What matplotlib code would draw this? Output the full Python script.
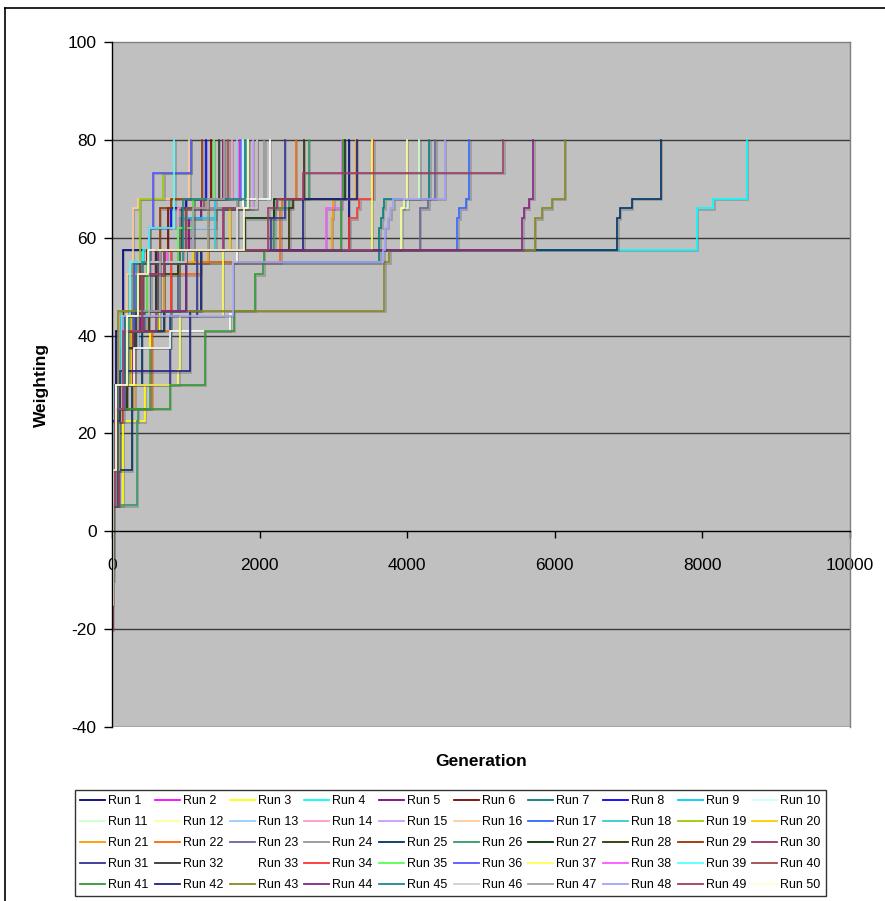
import matplotlib
matplotlib.use("Agg")
import matplotlib.pyplot as plt
import matplotlib.patheffects as pe
from matplotlib.lines import Line2D

plt.rcParams['font.family'] = ['Liberation Sans', 'DejaVu Sans']

# Best weighting per generation for each GA run: (generation, weighting) change points
run_01 = [(0, 12.5), (25, 30), (60, 41), (120, 44), (150, 57.5), (3211, 80)]
run_02 = [(0, 5.3), (30, 22.5), (90, 32.7), (230, 41), (420, 52.5), (620, 57.5), (1000, 66), (1690, 68), (1740, 80)]
run_03 = [(0, 5.3), (150, 22.5), (447, 30), (520, 41), (640, 45), (900, 57.5), (1300, 68), (1500, 80)]
run_04 = [(0, 5.3), (40, 25), (130, 37.5), (210, 44), (330, 55), (420, 57.5), (7923, 66), (8148, 68), (8600, 80)]
run_05 = [(0, 12.5), (70, 30), (200, 41), (380, 45), (600, 57.5), (1050, 64), (1200, 68), (1508, 80)]
run_06 = [(0, -5), (20, 22.5), (110, 37.5), (260, 45), (480, 57.5), (760, 66), (1000, 68), (1341, 80)]
run_07 = [(0, 5.3), (60, 25), (200, 41), (420, 45), (900, 55), (3620, 62), (3650, 64), (3670, 66), (3690, 68), (4300, 80)]
run_08 = [(0, 12.5), (50, 30), (180, 44), (300, 55), (505, 62), (800, 66), (1000, 68), (1270, 80)]
run_09 = [(0, 5.3), (35, 25), (100, 41), (250, 45), (520, 57.5), (900, 64), (1400, 68), (1760, 80)]
run_10 = [(0, 12.5), (60, 30), (170, 44), (400, 55), (800, 57.5), (1500, 66), (1780, 80)]
run_11 = [(0, 5.3), (80, 30), (250, 41), (600, 55), (1200, 57.5), (3930, 66), (4010, 68), (4164, 80)]
run_12 = [(0, 12.5), (100, 30), (300, 44), (700, 55), (1300, 57.5), (3912, 66), (3957, 68), (3993, 80)]
run_13 = [(0, 5.3), (50, 22.5), (160, 37.5), (350, 45), (650, 55), (1100, 62), (1400, 66), (1690, 80)]
run_14 = [(0, 12.5), (40, 25), (140, 41), (300, 52.5), (560, 57.5), (900, 66), (1300, 68), (1620, 80)]
run_15 = [(0, 5.3), (70, 30), (220, 41), (500, 55), (900, 57.5), (1500, 66), (1906, 80)]
run_16 = [(0, 12.5), (30, 30), (100, 44), (200, 52.5), (285, 66), (350, 68), (1048, 80)]
run_17 = [(0, 5.3), (60, 25), (180, 41), (400, 45), (700, 57.5), (4680, 64), (4708, 66), (4790, 68), (4843, 80)]
run_18 = [(0, 12.5), (45, 30), (160, 44), (380, 55), (700, 57.5), (1400, 66), (1820, 80)]
run_19 = [(0, 5.3), (40, 30), (130, 45), (280, 55), (380, 68), (695, 73.3), (1065, 80)]
run_20 = [(0, 12.5), (80, 30), (260, 44), (600, 55), (1100, 57.5), (1600, 66), (1845, 80)]
run_21 = [(0, 5.3), (90, 25), (300, 41), (700, 55), (1300, 57.5), (2976, 64), (2990, 66), (3000, 68), (3300, 80)]
run_22 = [(0, 12.5), (60, 25), (540, 41), (800, 52.5), (1200, 55), (2280, 66), (2300, 68), (2489, 80)]
run_23 = [(0, 5.3), (50, 30), (200, 41), (450, 45), (900, 57.5), (4174, 66), (4287, 68), (4381, 80)]
run_24 = [(0, 12.5), (40, 30), (150, 41), (350, 52.5), (700, 57.5), (1300, 66), (1700, 68), (2064, 80)]
run_25 = [(0, 12.5), (267, 30), (400, 41), (700, 45), (1000, 57.5), (6847, 64), (6884, 66), (7041, 68), (7439, 80)]
run_26 = [(0, 5.3), (335, 22.5), (350, 25), (515, 37.5), (800, 45), (1200, 57.5), (2200, 66), (2400, 68), (2669, 80)]
run_27 = [(0, -10), (20, 22.5), (130, 37.5), (300, 45), (600, 57.5), (1800, 64), (2200, 68), (3157, 80)]
run_28 = [(0, 5.3), (70, 25), (200, 41), (500, 52.5), (900, 57.5), (2400, 66), (2450, 68), (2602, 80)]
run_29 = [(0, 12.5), (50, 30), (180, 44), (380, 55), (650, 66), (800, 68), (1224, 80)]
run_30 = [(0, 5.3), (90, 30), (280, 41), (600, 55), (1000, 57.5), (1500, 66), (1960, 80)]
run_31 = [(0, 12.5), (30, 22.5), (108, 30), (786, 44), (1150, 57.5), (2160, 64), (2344, 80)]
run_32 = [(0, 5.3), (40, 22.5), (120, 37.5), (320, 45), (600, 57.5), (950, 66), (1100, 68), (1450, 80)]
run_33 = [(0, 12.5), (100, 30), (300, 37.5), (786, 41), (1600, 44.5), (1640, 55), (1690, 66), (1780, 68), (2141, 80)]
run_34 = [(0, 5.3), (20, 22.5), (150, 41), (420, 45), (800, 57.5), (3216, 64), (3315, 66), (3351, 68), (3541, 80)]
run_35 = [(0, 12.5), (70, 30), (220, 44), (480, 55), (900, 62), (1100, 68), (1380, 80)]
run_36 = [(0, 5.3), (40, 30), (140, 41), (300, 55), (505, 62), (555, 73.3), (1070, 80)]
run_37 = [(0, 5.3), (40, 22.5), (120, 30), (899, 33), (921, 44), (1500, 57.5), (3518, 80)]
run_38 = [(0, 12.5), (50, 25), (160, 41), (400, 55), (741, 57.5), (2900, 66), (3112, 80)]
run_39 = [(0, 5.3), (30, 30), (120, 44), (250, 55), (500, 62), (845, 80)]
run_40 = [(0, 12.5), (60, 30), (200, 41), (420, 52.5), (700, 57.5), (1000, 66), (1250, 68), (1576, 80)]
run_41 = [(0, 12.5), (80, 25), (786, 30), (1260, 41), (1650, 45), (1938, 52.5), (2050, 55), (2060, 57.5), (3100, 68), (3135, 80)]
run_42 = [(0, 22.5), (108, 32.7), (1057, 45), (1200, 57.5), (2593, 68), (3315, 80)]
run_43 = [(0, 5.3), (50, 30), (86, 45), (3690, 55), (3760, 57.5), (5732, 64), (5823, 66), (5958, 68), (6138, 80)]
run_44 = [(0, 12.5), (40, 30), (150, 41), (400, 45), (1000, 57.5), (5560, 64), (5583, 66), (5651, 68), (5709, 80)]
run_45 = [(0, 5.3), (60, 30), (180, 44), (400, 55), (964, 68), (1800, 80)]
run_46 = [(0, 12.5), (50, 30), (200, 44), (500, 55), (1000, 57.5), (1700, 66), (1960, 80)]
run_47 = [(0, 5.3), (40, 25), (150, 41), (350, 45), (650, 57.5), (1100, 66), (1300, 68), (1522, 80)]
run_48 = [(0, -5), (15, 5.3), (50, 25), (150, 44), (1640, 55), (3677, 57.5), (3700, 62), (3740, 64), (3770, 66), (3812, 68), (4512, 80)]
run_49 = [(0, -20), (8, 5.3), (40, 25), (150, 41), (400, 52.5), (700, 57.5), (2118, 66), (2231, 68), (2593, 73.3), (5302, 80)]
run_50 = [(0, -15), (12, 12.5), (60, 30), (200, 44), (350, 52.5), (492, 57.5), (1790, 66), (1840, 80)]

runs = [run_01, run_02, run_03, run_04, run_05, run_06, run_07, run_08, run_09, run_10,
        run_11, run_12, run_13, run_14, run_15, run_16, run_17, run_18, run_19, run_20,
        run_21, run_22, run_23, run_24, run_25, run_26, run_27, run_28, run_29, run_30,
        run_31, run_32, run_33, run_34, run_35, run_36, run_37, run_38, run_39, run_40,
        run_41, run_42, run_43, run_44, run_45, run_46, run_47, run_48, run_49, run_50]
run_labels = [f"Run {i}" for i in range(1, 51)]

run_colors = [
    '#000080', '#FF00FF', '#FFFF00', '#00FFFF', '#800080', '#800000', '#008080', '#0000FF', '#00CCFF', '#CCFFFF',
    '#CCFFCC', '#FFFF99', '#99CCFF', '#FF99CC', '#CC99FF', '#FFCC99', '#3366FF', '#33CCCC', '#99CC00', '#FFCC00',
    '#FF9900', '#FF6600', '#666699', '#969696', '#003366', '#339966', '#003300', '#333300', '#993300', '#993366',
    '#333399', '#333333', '#FFFFFF', '#FF3333', '#55FF55', '#5555FF', '#FFFF55', '#FF55FF', '#55FFFF', '#A04848',
    '#339933', '#202080', '#888822', '#882288', '#228888', '#D0D0D0', '#A0A0A0', '#A0A0FF', '#A03A66', '#FFFFD0',
]

y_ticks = [-40, -20, 0, 20, 40, 60, 80, 100]
x_ticks = [0, 2000, 4000, 6000, 8000, 10000]

fig = plt.figure(figsize=(8.85, 9.01), dpi=100)
ax = fig.add_axes([112 / 885, 1 - 727 / 901, 738 / 885, 685 / 901])
ax.set_facecolor('#C0C0C0')

for y in [-40, -20, 20, 40, 60, 80]:
    ax.axhline(y, color='#3a3a3a', lw=1.0, zorder=1)

shadow = [pe.SimpleLineShadow(offset=(1.0, -1.0), shadow_color='#505050', alpha=0.35), pe.Normal()]
handles = []
for pts, col, lab in zip(runs, run_colors, run_labels):
    gens = [p[0] for p in pts]
    vals = [p[1] for p in pts]
    ax.plot(gens, vals, drawstyle='steps-post', color=col, lw=1.2,
            path_effects=shadow, zorder=2, solid_joinstyle='miter')
    handles.append(Line2D([], [], color=col, lw=1.3))

ax.set_xlim(0, 10000)
ax.set_ylim(-40, 100)
ax.set_xticks(x_ticks)
ax.set_yticks(y_ticks)
ax.set_xticklabels([str(v) for v in x_ticks])
ax.set_yticklabels([str(v) for v in y_ticks])

ax.spines['bottom'].set_position(('data', 0))
ax.spines['bottom'].set_color('black')
ax.spines['bottom'].set_zorder(3)
ax.spines['left'].set_color('black')
ax.spines['left'].set_zorder(3)
ax.spines['top'].set_color('#808080')
ax.spines['right'].set_color('#808080')
for s in ax.spines.values():
    s.set_linewidth(1.0)

ax.tick_params(axis='y', direction='out', length=6, width=1, pad=5, labelsize=12.5, colors='black')
ax.tick_params(axis='x', direction='out', length=5, width=1, pad=14, labelsize=12.5, colors='black')

ax.set_ylabel('Weighting', fontsize=12.5, fontweight='bold')
ax.yaxis.set_label_coords(-0.085, 0.5)
ax.set_xlabel('Generation', fontsize=12.5, fontweight='bold')
ax.xaxis.set_label_coords(0.5, -0.039)

order = [r * 10 + c for c in range(10) for r in range(5)]
leg = fig.legend([handles[i] for i in order], [run_labels[i] for i in order],
                 loc='upper left', bbox_to_anchor=(75 / 885, 1 - 790 / 901),
                 bbox_transform=fig.transFigure, ncol=10, fontsize=9,
                 handlelength=2.0, handletextpad=0.25, columnspacing=0.5,
                 labelspacing=0.72, borderpad=0.4, borderaxespad=0,
                 frameon=True, fancybox=False, edgecolor='black')
leg.get_frame().set_linewidth(1.0)

# outer chart frame
fig.add_artist(Line2D([5 / 885, 1.0], [1 - 8 / 901, 1 - 8 / 901], transform=fig.transFigure, color='black', lw=1.2))
fig.add_artist(Line2D([5 / 885, 5 / 885], [0, 1 - 8 / 901], transform=fig.transFigure, color='black', lw=1.2))

fig.savefig('out.png', dpi=100, facecolor='white')
